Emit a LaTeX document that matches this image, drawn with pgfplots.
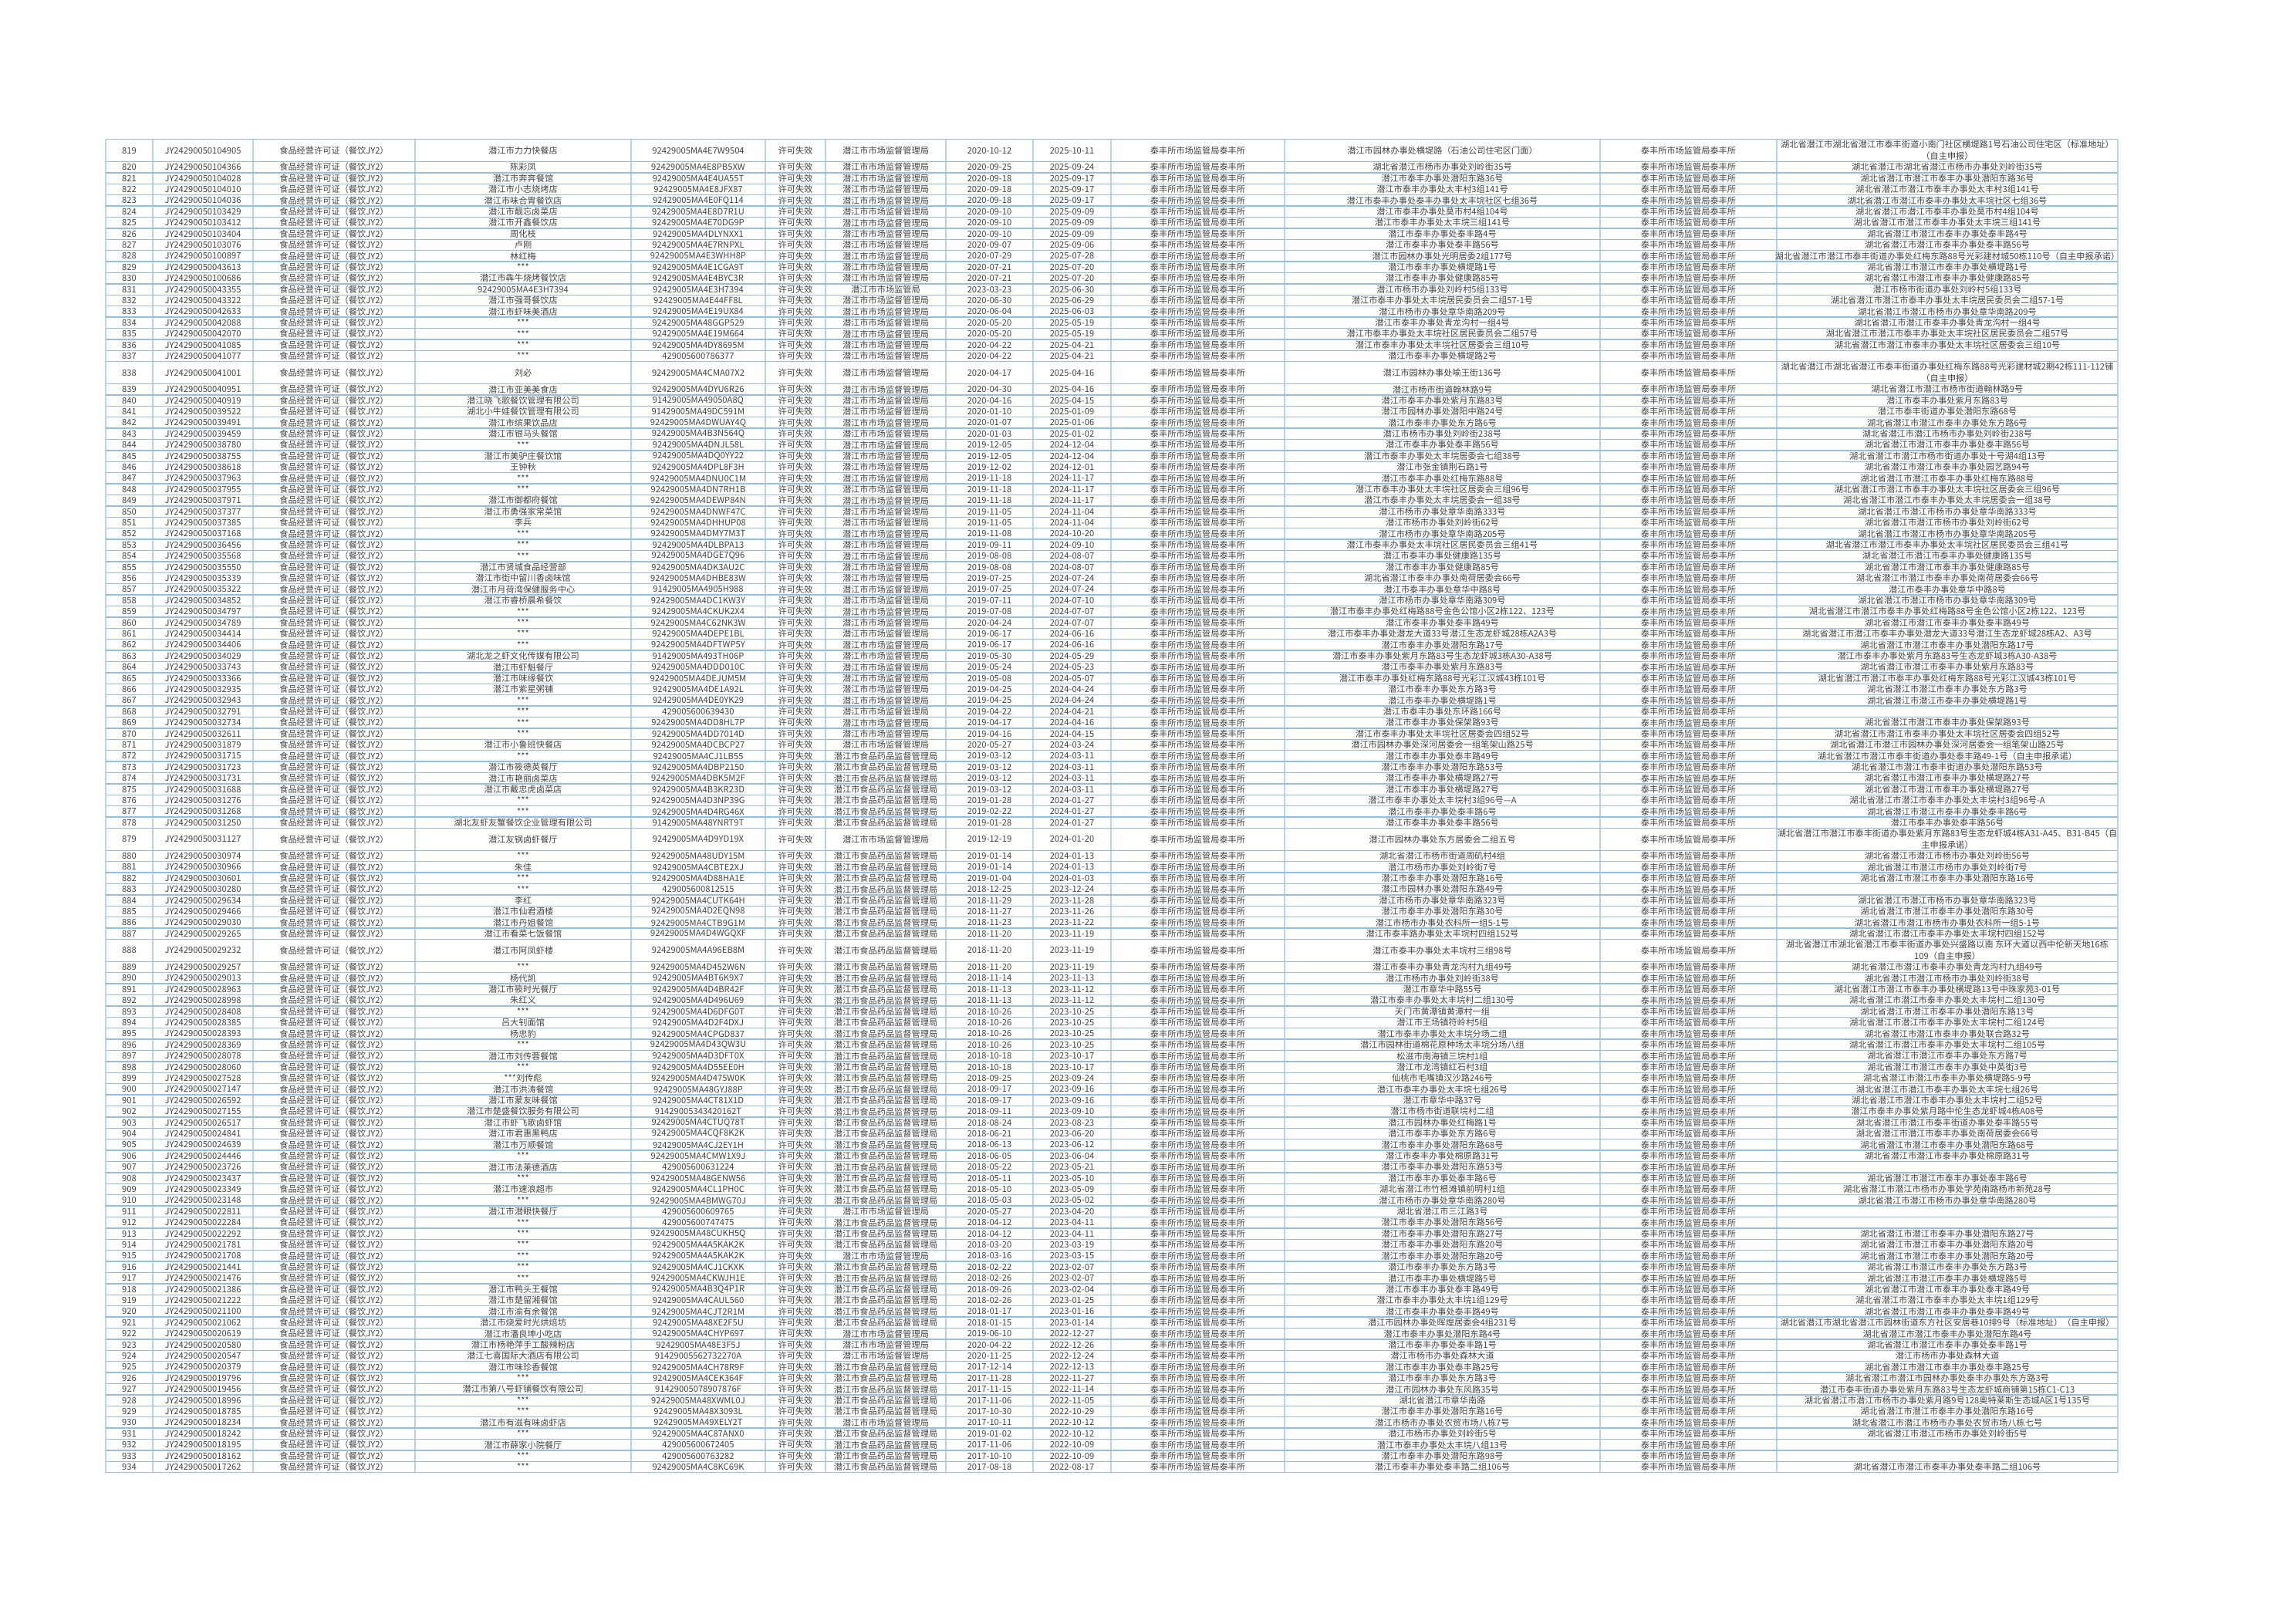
\documentclass[border=0pt]{standalone}
\usepackage{fontspec}
\setmainfont{Noto Sans CJK SC}
\usepackage{pgfplots}
\usepackage{pgfplotstable}
\pgfplotsset{compat=1.18}
\definecolor{txtc}{RGB}{66,66,66}
\definecolor{hgrid}{RGB}{150,190,228}
\definecolor{vgrid}{RGB}{186,212,238}
\newcommand\tabfont{\fontsize{5.6}{7}\selectfont}

\pgfplotstableread[col sep=comma]{
y,c1,c2,c4,c5,c7,c8,c9,c11,c13
1,819,JY24290050104905,潜江市力力快餐店,92429005MA4E7W9504,潜江市市场监督管理局,2020-10-12,2025-10-11,潜江市园林办事处横堤路（石油公司住宅区门面）,{}
2.5,820,JY24290050104366,陈彩凤,92429005MA4E8PB5XW,潜江市市场监督管理局,2020-09-25,2025-09-24,湖北省潜江市杨市办事处刘岭街35号,湖北省潜江市湖北省潜江市杨市办事处刘岭街35号
3.5,821,JY24290050104028,潜江市奔奔餐馆,92429005MA4E4UA55T,潜江市市场监督管理局,2020-09-18,2025-09-17,潜江市泰丰办事处潜阳东路36号,湖北省潜江市潜江市泰丰办事处潜阳东路36号
4.5,822,JY24290050104010,潜江市小志烧烤店,92429005MA4E8JFX87,潜江市市场监督管理局,2020-09-18,2025-09-17,潜江市泰丰办事处太丰村3组141号,湖北省潜江市潜江市泰丰办事处太丰村3组141号
5.5,823,JY24290050104036,潜江市味合胃餐饮店,92429005MA4E0FQ114,潜江市市场监督管理局,2020-09-18,2025-09-17,潜江市泰丰办事处泰丰办事处太丰垸社区七组36号,湖北省潜江市潜江市泰丰办事处太丰垸社区七组36号
6.5,824,JY24290050103429,潜江市靓忘卤菜店,92429005MA4E8D7R1U,潜江市市场监督管理局,2020-09-10,2025-09-09,潜江市泰丰办事处莫市村4组104号,湖北省潜江市潜江市泰丰办事处莫市村4组104号
7.5,825,JY24290050103412,潜江市开鑫餐饮店,92429005MA4E70DG9P,潜江市市场监督管理局,2020-09-10,2025-09-09,潜江市泰丰办事处太丰垸三组141号,湖北省潜江市潜江市泰丰办事处太丰垸三组141号
8.5,826,JY24290050103404,周化枝,92429005MA4DLYNXX1,潜江市市场监督管理局,2020-09-10,2025-09-09,潜江市泰丰办事处泰丰路4号,湖北省潜江市潜江市泰丰办事处泰丰路4号
9.5,827,JY24290050103076,卢刚,92429005MA4E7RNPXL,潜江市市场监督管理局,2020-09-07,2025-09-06,潜江市泰丰办事处泰丰路56号,湖北省潜江市潜江市泰丰办事处泰丰路56号
10.5,828,JY24290050100897,林红梅,92429005MA4E3WHH8P,潜江市市场监督管理局,2020-07-29,2025-07-28,潜江市园林办事处光明居委2组177号,湖北省潜江市潜江市泰丰街道办事处红梅东路88号光彩建材城50栋110号（自主申报承诺）
11.5,829,JY24290050043613,***,92429005MA4E1CGA9T,潜江市市场监督管理局,2020-07-21,2025-07-20,潜江市泰丰办事处横堤路1号,湖北省潜江市潜江市泰丰办事处横堤路1号
12.5,830,JY24290050100686,潜江市犇牛烧烤餐饮店,92429005MA4E4BYC3R,潜江市市场监督管理局,2020-07-21,2025-07-20,潜江市泰丰办事处健康路85号,湖北省潜江市潜江市泰丰办事处健康路85号
13.5,831,JY24290050043355,92429005MA4E3H7394,92429005MA4E3H7394,潜江市市场监管局,2023-03-23,2025-06-30,潜江市杨市办事处刘岭村5组133号,潜江市杨市街道办事处刘岭村5组133号
14.5,832,JY24290050043322,潜江市强哥餐饮店,92429005MA4E44FF8L,潜江市市场监督管理局,2020-06-30,2025-06-29,潜江市泰丰办事处太丰垸居民委员会二组57-1号,湖北省潜江市潜江市泰丰办事处太丰垸居民委员会二组57-1号
15.5,833,JY24290050042633,潜江市虾味美酒店,92429005MA4E19UX84,潜江市市场监督管理局,2020-06-04,2025-06-03,潜江市杨市办事处章华南路209号,湖北省潜江市潜江市杨市办事处章华南路209号
16.5,834,JY24290050042088,***,92429005MA48GGP529,潜江市市场监督管理局,2020-05-20,2025-05-19,潜江市泰丰办事处青龙沟村一组4号,湖北省潜江市潜江市泰丰办事处青龙沟村一组4号
17.5,835,JY24290050042070,***,92429005MA4E19M664,潜江市市场监督管理局,2020-05-20,2025-05-19,潜江市泰丰办事处太丰垸社区居民委员会二组57号,湖北省潜江市潜江市泰丰办事处太丰垸社区居民委员会二组57号
18.5,836,JY24290050041085,***,92429005MA4DY8695M,潜江市市场监督管理局,2020-04-22,2025-04-21,潜江市泰丰办事处太丰垸社区居委会三组10号,湖北省潜江市潜江市泰丰办事处太丰垸社区居委会三组10号
19.5,837,JY24290050041077,***,429005600786377,潜江市市场监督管理局,2020-04-22,2025-04-21,潜江市泰丰办事处横堤路2号,{}
21,838,JY24290050041001,刘必,92429005MA4CMA07X2,潜江市市场监督管理局,2020-04-17,2025-04-16,潜江市园林办事处喻王街136号,{}
22.5,839,JY24290050040951,潜江市亚美美食店,92429005MA4DYU6R26,潜江市市场监督管理局,2020-04-30,2025-04-16,潜江市杨市街道翰林路9号,湖北省潜江市潜江市杨市街道翰林路9号
23.5,840,JY24290050040919,潜江晓飞歌餐饮管理有限公司,91429005MA49050A8Q,潜江市市场监督管理局,2020-04-16,2025-04-15,潜江市泰丰办事处紫月东路83号,潜江市泰丰办事处紫月东路83号
24.5,841,JY24290050039522,湖北小牛娃餐饮管理有限公司,91429005MA49DC591M,潜江市市场监督管理局,2020-01-10,2025-01-09,潜江市园林办事处潜阳中路24号,潜江市泰丰街道办事处潜阳东路68号
25.5,842,JY24290050039491,潜江市缤果饮品店,92429005MA4DWUAY4Q,潜江市市场监督管理局,2020-01-07,2025-01-06,潜江市泰丰办事处东方路6号,湖北省潜江市潜江市泰丰办事处东方路6号
26.5,843,JY24290050039459,潜江市银马头餐馆,92429005MA4B3N564Q,潜江市市场监督管理局,2020-01-03,2025-01-02,潜江市杨市办事处刘岭街238号,湖北省潜江市潜江市杨市办事处刘岭街238号
27.5,844,JY24290050038780,***,92429005MA4DNJL58L,潜江市市场监督管理局,2019-12-05,2024-12-04,潜江市泰丰办事处泰丰路56号,湖北省潜江市潜江市泰丰办事处泰丰路56号
28.5,845,JY24290050038755,潜江市美驴庄餐饮馆,92429005MA4DQ0YY22,潜江市市场监督管理局,2019-12-05,2024-12-04,潜江市泰丰办事处太丰垸居委会七组38号,湖北省潜江市潜江市杨市街道办事处十号湖4组13号
29.5,846,JY24290050038618,王钟秋,92429005MA4DPL8F3H,潜江市市场监督管理局,2019-12-02,2024-12-01,潜江市张金镇荆石路1号,湖北省潜江市潜江市泰丰办事处园艺路94号
30.5,847,JY24290050037963,***,92429005MA4DNU0C1M,潜江市市场监督管理局,2019-11-18,2024-11-17,潜江市泰丰办事处红梅东路88号,湖北省潜江市潜江市泰丰办事处红梅东路88号
31.5,848,JY24290050037955,***,92429005MA4DN7RH1B,潜江市市场监督管理局,2019-11-18,2024-11-17,潜江市泰丰办事处太丰垸社区居委会三组96号,湖北省潜江市潜江市泰丰办事处太丰垸社区居委会三组96号
32.5,849,JY24290050037971,潜江市御都府餐馆,92429005MA4DEWP84N,潜江市市场监督管理局,2019-11-18,2024-11-17,潜江市泰丰办事处太丰垸居委会一组38号,湖北省潜江市潜江市泰丰办事处太丰垸居委会一组38号
33.5,850,JY24290050037377,潜江市勇强家常菜馆,92429005MA4DNWF47C,潜江市市场监督管理局,2019-11-05,2024-11-04,潜江市杨市办事处章华南路333号,湖北省潜江市潜江市杨市办事处章华南路333号
34.5,851,JY24290050037385,李兵,92429005MA4DHHUP08,潜江市市场监督管理局,2019-11-05,2024-11-04,潜江市杨市办事处刘岭街62号,湖北省潜江市潜江市杨市办事处刘岭街62号
35.5,852,JY24290050037168,***,92429005MA4DMY7M3T,潜江市市场监督管理局,2019-11-08,2024-10-20,潜江市杨市办事处章华南路205号,湖北省潜江市潜江市杨市办事处章华南路205号
36.5,853,JY24290050036456,***,92429005MA4DLBPA13,潜江市市场监督管理局,2019-09-11,2024-09-10,潜江市泰丰办事处太丰垸社区居民委员会三组41号,湖北省潜江市潜江市泰丰办事处太丰垸社区居民委员会三组41号
37.5,854,JY24290050035568,***,92429005MA4DGE7Q96,潜江市市场监督管理局,2019-08-08,2024-08-07,潜江市泰丰办事处健康路135号,湖北省潜江市潜江市泰丰办事处健康路135号
38.5,855,JY24290050035550,潜江市贤城食品经营部,92429005MA4DK3AU2C,潜江市市场监督管理局,2019-08-08,2024-08-07,潜江市泰丰办事处健康路85号,湖北省潜江市潜江市泰丰办事处健康路85号
39.5,856,JY24290050035339,潜江市街中留川香卤味馆,92429005MA4DHBE83W,潜江市市场监督管理局,2019-07-25,2024-07-24,湖北省潜江市泰丰办事处南荷居委会66号,湖北省潜江市潜江市泰丰办事处南荷居委会66号
40.5,857,JY24290050035322,潜江市月荷湾保健服务中心,91429005MA4905H988,潜江市市场监督管理局,2019-07-25,2024-07-24,潜江市泰丰办事处章华中路8号,潜江市泰丰办事处章华中路8号
41.5,858,JY24290050034852,潜江市睿桥晨希餐饮,92429005MA4DC1KW3Y,潜江市市场监督管理局,2019-07-11,2024-07-10,潜江市杨市办事处章华南路309号,湖北省潜江市潜江市杨市办事处章华南路309号
42.5,859,JY24290050034797,***,92429005MA4CKUK2X4,潜江市市场监督管理局,2019-07-08,2024-07-07,潜江市泰丰办事处红梅路88号金色公馆小区2栋122、123号,湖北省潜江市潜江市泰丰办事处红梅路88号金色公馆小区2栋122、123号
43.5,860,JY24290050034789,***,92429005MA4C62NK3W,潜江市市场监督管理局,2020-04-24,2024-07-07,潜江市泰丰办事处泰丰路49号,湖北省潜江市潜江市泰丰办事处泰丰路49号
44.5,861,JY24290050034414,***,92429005MA4DEPE1BL,潜江市市场监督管理局,2019-06-17,2024-06-16,潜江市泰丰办事处潜龙大道33号潜江生态龙虾城28栋A2A3号,湖北省潜江市潜江市泰丰办事处潜龙大道33号潜江生态龙虾城28栋A2、A3号
45.5,862,JY24290050034406,***,92429005MA4DFTWP5Y,潜江市市场监督管理局,2019-06-17,2024-06-16,潜江市泰丰办事处潜阳东路17号,湖北省潜江市潜江市泰丰办事处潜阳东路17号
46.5,863,JY24290050034029,湖北龙之虾文化传媒有限公司,91429005MA493TH06P,潜江市市场监督管理局,2019-05-30,2024-05-29,潜江市泰丰办事处紫月东路83号生态龙虾城3栋A30-A38号,潜江市泰丰办事处紫月东路83号生态龙虾城3栋A30-A38号
47.5,864,JY24290050033743,潜江市虾魁餐厅,92429005MA4DDD010C,潜江市市场监督管理局,2019-05-24,2024-05-23,潜江市泰丰办事处紫月东路83号,湖北省潜江市潜江市泰丰办事处紫月东路83号
48.5,865,JY24290050033366,潜江市味缘餐饮,92429005MA4DEJUM5M,潜江市市场监督管理局,2019-05-08,2024-05-07,潜江市泰丰办事处红梅东路88号光彩江汉城43栋101号,湖北省潜江市潜江市泰丰办事处红梅东路88号光彩江汉城43栋101号
49.5,866,JY24290050032935,潜江市紫星粥铺,92429005MA4DE1A92L,潜江市市场监督管理局,2019-04-25,2024-04-24,潜江市泰丰办事处东方路3号,湖北省潜江市潜江市泰丰办事处东方路3号
50.5,867,JY24290050032943,***,92429005MA4DE0YK29,潜江市市场监督管理局,2019-04-25,2024-04-24,潜江市泰丰办事处横堤路1号,湖北省潜江市潜江市泰丰办事处横堤路1号
51.5,868,JY24290050032791,***,429005600639430,潜江市市场监督管理局,2019-04-22,2024-04-21,潜江市泰丰办事处东环路166号,{}
52.5,869,JY24290050032734,***,92429005MA4DD8HL7P,潜江市市场监督管理局,2019-04-17,2024-04-16,潜江市泰丰办事处保架路93号,湖北省潜江市潜江市泰丰办事处保架路93号
53.5,870,JY24290050032611,***,92429005MA4DD7014D,潜江市市场监督管理局,2019-04-16,2024-04-15,潜江市泰丰办事处太丰垸社区居委会四组52号,湖北省潜江市潜江市泰丰办事处太丰垸社区居委会四组52号
54.5,871,JY24290050031879,潜江市小鲁班快餐店,92429005MA4DCBCP27,潜江市市场监督管理局,2020-05-27,2024-03-24,潜江市园林办事处深河居委会一组笔架山路25号,湖北省潜江市潜江市园林办事处深河居委会一组笔架山路25号
55.5,872,JY24290050031715,***,92429005MA4CJ1LB55,潜江市食品药品监督管理局,2019-03-12,2024-03-11,潜江市泰丰办事处泰丰路49号,湖北省潜江市潜江市泰丰街道办事处泰丰路49-1号（自主申报承诺）
56.5,873,JY24290050031723,潜江市筱德英餐厅,92429005MA4DBP2150,潜江市食品药品监督管理局,2019-03-12,2024-03-11,潜江市泰丰办事处潜阳东路53号,湖北省潜江市潜江市泰丰街道办事处潜阳东路53号
57.5,874,JY24290050031731,潜江市艳丽卤菜店,92429005MA4DBK5M2F,潜江市食品药品监督管理局,2019-03-12,2024-03-11,潜江市泰丰办事处横堤路27号,湖北省潜江市潜江市泰丰办事处横堤路27号
58.5,875,JY24290050031688,潜江市戴忠虎卤菜店,92429005MA4B3KR23D,潜江市食品药品监督管理局,2019-03-12,2024-03-11,潜江市泰丰办事处横堤路27号,湖北省潜江市潜江市泰丰办事处横堤路27号
59.5,876,JY24290050031276,***,92429005MA4D3NP39G,潜江市食品药品监督管理局,2019-01-28,2024-01-27,潜江市泰丰办事处太丰垸村3组96号—A,湖北省潜江市潜江市泰丰办事处太丰垸村3组96号-A
60.5,877,JY24290050031268,***,92429005MA4D4RG46X,潜江市食品药品监督管理局,2019-02-22,2024-01-27,潜江市泰丰办事处泰丰路6号,湖北省潜江市潜江市泰丰办事处泰丰路6号
61.5,878,JY24290050031250,湖北友虾友蟹餐饮企业管理有限公司,91429005MA48YNRT9T,潜江市食品药品监督管理局,2019-01-28,2024-01-27,潜江市泰丰办事处泰丰路56号,潜江市泰丰办事处泰丰路56号
63,879,JY24290050031127,潜江友锅卤虾餐厅,92429005MA4D9YD19X,潜江市市场监督管理局,2019-12-19,2024-01-20,潜江市园林办事处东方居委会二组五号,{}
64.5,880,JY24290050030974,***,92429005MA48UDY15M,潜江市食品药品监督管理局,2019-01-14,2024-01-13,湖北省潜江市杨市街道周矶村4组,湖北省潜江市潜江市杨市办事处刘岭街56号
65.5,881,JY24290050030966,朱佳,92429005MA4CBTE2XJ,潜江市食品药品监督管理局,2019-01-14,2024-01-13,潜江市杨市办事处刘岭街7号,湖北省潜江市潜江市杨市办事处刘岭街7号
66.5,882,JY24290050030601,***,92429005MA4D88HA1E,潜江市食品药品监督管理局,2019-01-04,2024-01-03,潜江市泰丰办事处潜阳东路16号,湖北省潜江市潜江市泰丰办事处潜阳东路16号
67.5,883,JY24290050030280,***,429005600812515,潜江市食品药品监督管理局,2018-12-25,2023-12-24,潜江市园林办事处潜阳东路49号,{}
68.5,884,JY24290050029634,李红,92429005MA4CUTK64H,潜江市食品药品监督管理局,2018-11-29,2023-11-28,潜江市杨市办事处章华南路323号,湖北省潜江市潜江市杨市办事处章华南路323号
69.5,885,JY24290050029466,潜江市仙君酒楼,92429005MA4D2EQN98,潜江市食品药品监督管理局,2018-11-27,2023-11-26,潜江市泰丰办事处潜阳东路30号,湖北省潜江市潜江市泰丰办事处潜阳东路30号
70.5,886,JY24290050029030,潜江市丹姐餐馆,92429005MA4CTB9G1M,潜江市食品药品监督管理局,2018-11-23,2023-11-22,潜江市杨市办事处农科所一组5-1号,湖北省潜江市潜江市杨市办事处农科所一组5-1号
71.5,887,JY24290050029265,潜江市看菜七饭餐馆,92429005MA4D4WGQXF,潜江市食品药品监督管理局,2018-11-20,2023-11-19,潜江市泰丰路办事处太丰垸村四组152号,湖北省潜江市潜江市泰丰办事处太丰垸村四组152号
73,888,JY24290050029232,潜江市阿凤虾楼,92429005MA4A96EB8M,潜江市食品药品监督管理局,2018-11-20,2023-11-19,潜江市泰丰办事处太丰垸村三组98号,{}
74.5,889,JY24290050029257,***,92429005MA4D452W6N,潜江市食品药品监督管理局,2018-11-20,2023-11-19,潜江市泰丰办事处青龙沟村九组49号,湖北省潜江市潜江市泰丰办事处青龙沟村九组49号
75.5,890,JY24290050029013,杨代凯,92429005MA4BT6K9X7,潜江市食品药品监督管理局,2018-11-14,2023-11-13,潜江市杨市办事处刘岭街38号,湖北省潜江市潜江市杨市办事处刘岭街38号
76.5,891,JY24290050028963,潜江市筱时光餐厅,92429005MA4D4BR42F,潜江市食品药品监督管理局,2018-11-13,2023-11-12,潜江市章华中路55号,湖北省潜江市潜江市泰丰办事处横堤路13号中珠家苑3-01号
77.5,892,JY24290050028998,朱红义,92429005MA4D496U69,潜江市食品药品监督管理局,2018-11-13,2023-11-12,潜江市泰丰办事处太丰垸村二组130号,湖北省潜江市潜江市泰丰办事处太丰垸村二组130号
78.5,893,JY24290050028408,***,92429005MA4D6DFG0T,潜江市食品药品监督管理局,2018-10-26,2023-10-25,天门市黄潭镇黄潭村一组,湖北省潜江市潜江市泰丰办事处潜阳东路13号
79.5,894,JY24290050028385,吕大钊面馆,92429005MA4D2F4DXJ,潜江市食品药品监督管理局,2018-10-26,2023-10-25,潜江市王场镇符岭村5组,湖北省潜江市潜江市泰丰办事处太丰垸村二组124号
80.5,895,JY24290050028393,杨忠豹,92429005MA4CPGD837,潜江市食品药品监督管理局,2018-10-26,2023-10-25,潜江市泰丰办事处太丰垸分场二组,湖北省潜江市潜江市泰丰办事处联合路32号
81.5,896,JY24290050028369,***,92429005MA4D43QW3U,潜江市食品药品监督管理局,2018-10-26,2023-10-25,潜江市园林街道棉花原种场太丰垸分场八组,湖北省潜江市潜江市泰丰办事处太丰垸村二组105号
82.5,897,JY24290050028078,潜江市刘传蓉餐馆,92429005MA4D3DFT0X,潜江市食品药品监督管理局,2018-10-18,2023-10-17,松滋市南海镇三垸村1组,湖北省潜江市潜江市泰丰办事处东方路7号
83.5,898,JY24290050028060,***,92429005MA4D55EE0H,潜江市食品药品监督管理局,2018-10-18,2023-10-17,潜江市龙湾镇红石村3组,湖北省潜江市潜江市泰丰办事处中英街3号
84.5,899,JY24290050027528,***刘传彪,92429005MA4D475W0K,潜江市食品药品监督管理局,2018-09-25,2023-09-24,仙桃市毛嘴镇汉沙路246号,湖北省潜江市潜江市泰丰办事处横堤路5-9号
85.5,900,JY24290050027147,潜江市洪涛餐馆,92429005MA48GYJ88P,潜江市食品药品监督管理局,2018-09-17,2023-09-16,潜江市泰丰办事处太丰垸七组26号,湖北省潜江市潜江市泰丰办事处太丰垸七组26号
86.5,901,JY24290050026592,潜江市蒙友味餐馆,92429005MA4CT81X1D,潜江市食品药品监督管理局,2018-09-17,2023-09-16,潜江市章华中路37号,湖北省潜江市潜江市泰丰办事处太丰垸村二组52号
87.5,902,JY24290050027155,潜江市楚盛餐饮服务有限公司,91429005343420162T,潜江市食品药品监督管理局,2018-09-11,2023-09-10,潜江市杨市街道联垸村二组,潜江市泰丰办事处紫月路中伦生态龙虾城4栋A08号
88.5,903,JY24290050026517,潜江市虾飞歌卤虾馆,92429005MA4CTUQ78T,潜江市食品药品监督管理局,2018-08-24,2023-08-23,潜江市园林办事处红梅路1号,湖北省潜江市潜江市泰丰街道办事处泰丰路55号
89.5,904,JY24290050024841,潜江市君惠黑鸭店,92429005MA4CQF8K2K,潜江市食品药品监督管理局,2018-06-21,2023-06-20,潜江市泰丰办事处东方路6号,湖北省潜江市潜江市泰丰办事处南荷居委会66号
90.5,905,JY24290050024639,潜江市万顺餐馆,92429005MA4CJ2EY1H,潜江市食品药品监督管理局,2018-06-13,2023-06-12,潜江市泰丰办事处潜阳东路68号,湖北省潜江市潜江市泰丰办事处潜阳东路68号
91.5,906,JY24290050024446,***,92429005MA4CMW1X9J,潜江市食品药品监督管理局,2018-06-05,2023-06-04,潜江市泰丰办事处棉原路31号,湖北省潜江市潜江市泰丰办事处棉原路31号
92.5,907,JY24290050023726,潜江市法莱德酒店,429005600631224,潜江市食品药品监督管理局,2018-05-22,2023-05-21,潜江市泰丰办事处潜阳东路53号,{}
93.5,908,JY24290050023437,***,92429005MA48GENW56,潜江市食品药品监督管理局,2018-05-11,2023-05-10,潜江市泰丰办事处泰丰路6号,湖北省潜江市潜江市泰丰办事处泰丰路6号
94.5,909,JY24290050023349,潜江市速浪超市,92429005MA4CL1PH0C,潜江市食品药品监督管理局,2018-05-10,2023-05-09,湖北省潜江市竹根滩镇前明村1组,湖北省潜江市潜江市杨市办事处学苑南路杨市新苑28号
95.5,910,JY24290050023148,***,92429005MA4BMWG70J,潜江市食品药品监督管理局,2018-05-03,2023-05-02,潜江市杨市办事处章华南路280号,湖北省潜江市潜江市杨市办事处章华南路280号
96.5,911,JY24290050022811,潜江市潜眼快餐厅,429005600609765,潜江市市场监督管理局,2020-05-27,2023-04-20,湖北省潜江市三江路3号,{}
97.5,912,JY24290050022284,***,429005600747475,潜江市食品药品监督管理局,2018-04-12,2023-04-11,潜江市泰丰办事处潜阳东路56号,{}
98.5,913,JY24290050022292,***,92429005MA48CUKH5Q,潜江市食品药品监督管理局,2018-04-12,2023-04-11,潜江市泰丰办事处潜阳东路27号,湖北省潜江市潜江市泰丰办事处潜阳东路27号
99.5,914,JY24290050021781,***,92429005MA4A5KAK2K,潜江市食品药品监督管理局,2018-03-20,2023-03-19,潜江市泰丰办事处潜阳东路20号,湖北省潜江市潜江市泰丰办事处潜阳东路20号
100.5,915,JY24290050021708,***,92429005MA4A5KAK2K,潜江市市场监督管理局,2018-03-16,2023-03-15,潜江市泰丰办事处潜阳东路20号,湖北省潜江市潜江市泰丰办事处潜阳东路20号
101.5,916,JY24290050021441,***,92429005MA4CJ1CKXK,潜江市食品药品监督管理局,2018-02-22,2023-02-07,潜江市泰丰办事处东方路3号,湖北省潜江市潜江市泰丰办事处东方路3号
102.5,917,JY24290050021476,***,92429005MA4CKWJH1E,潜江市食品药品监督管理局,2018-02-26,2023-02-07,潜江市泰丰办事处横堤路5号,湖北省潜江市潜江市泰丰办事处横堤路5号
103.5,918,JY24290050021386,潜江市鸭头王餐馆,92429005MA4B3Q4P1R,潜江市食品药品监督管理局,2018-09-26,2023-02-04,潜江市泰丰办事处泰丰路49号,湖北省潜江市潜江市泰丰办事处泰丰路49号
104.5,919,JY24290050021222,潜江市楚留湘餐馆,92429005MA4CAUL560,潜江市食品药品监督管理局,2018-02-26,2023-01-25,潜江市泰丰办事处太丰垸1组129号,湖北省潜江市潜江市泰丰办事处太丰垸1组129号
105.5,920,JY24290050021100,潜江市渝有余餐馆,92429005MA4CJT2R1M,潜江市食品药品监督管理局,2018-01-17,2023-01-16,潜江市泰丰办事处泰丰路49号,湖北省潜江市潜江市泰丰办事处泰丰路49号
106.5,921,JY24290050021062,潜江市烧爱时光烘焙坊,92429005MA48XE2F5U,潜江市食品药品监督管理局,2018-01-15,2023-01-14,潜江市园林办事处晖煌居委会4组231号,湖北省潜江市湖北省潜江市园林街道东方社区安居巷10排9号（标准地址）（自主申报）
107.5,922,JY24290050020619,潜江市潘良坤小吃店,92429005MA4CHYP697,潜江市市场监督管理局,2019-06-10,2022-12-27,潜江市泰丰办事处潜阳东路4号,湖北省潜江市潜江市泰丰办事处潜阳东路4号
108.5,923,JY24290050020580,潜江市杨艳萍手工酸辣粉店,92429005MA48E3F5J,潜江市市场监督管理局,2020-04-22,2022-12-26,潜江市泰丰办事处泰丰路1号,湖北省潜江市潜江市泰丰办事处泰丰路1号
109.5,924,JY24290050020547,潜江七喜国际大酒店有限公司,91429005562732270A,潜江市市场监督管理局,2020-11-25,2022-12-24,潜江市杨市办事处森林大道,潜江市杨市办事处森林大道
110.5,925,JY24290050020379,潜江市味珍香餐馆,92429005MA4CH78R9F,潜江市食品药品监督管理局,2017-12-14,2022-12-13,潜江市泰丰办事处泰丰路25号,湖北省潜江市潜江市泰丰办事处泰丰路25号
111.5,926,JY24290050019796,***,92429005MA4CEK364F,潜江市食品药品监督管理局,2017-11-28,2022-11-27,潜江市泰丰办事处东方路3号,湖北省潜江市潜江市园林办事处泰丰办事处东方路3号
112.5,927,JY24290050019456,潜江市第八号虾铺餐饮有限公司,91429005078907876F,潜江市食品药品监督管理局,2017-11-15,2022-11-14,潜江市园林办事处东风路35号,潜江市泰丰街道办事处紫月东路83号生态龙虾城商铺第15栋C1-C13
113.5,928,JY24290050018996,***,92429005MA48XWML0J,潜江市食品药品监督管理局,2017-11-06,2022-11-05,湖北省潜江市章华南路,湖北省潜江市潜江市杨市办事处紫月路9号128奥特莱斯生态城A区1号135号
114.5,929,JY24290050018785,***,92429005MA48X3093L,潜江市食品药品监督管理局,2017-10-30,2022-10-29,潜江市泰丰办事处潜阳东路16号,湖北省潜江市潜江市泰丰办事处潜阳东路16号
115.5,930,JY24290050018234,潜江市有滋有味卤虾店,92429005MA49XELY2T,潜江市市场监督管理局,2017-10-11,2022-10-12,潜江市杨市办事处农贸市场八栋7号,湖北省潜江市潜江市杨市办事处农贸市场八栋七号
116.5,931,JY24290050018242,***,92429005MA4C87ANX0,潜江市食品药品监督管理局,2019-01-02,2022-10-12,潜江市杨市办事处刘岭街5号,湖北省潜江市潜江市杨市办事处刘岭街5号
117.5,932,JY24290050018195,潜江市薛家小院餐厅,429005600672405,潜江市食品药品监督管理局,2017-11-06,2022-10-09,潜江市泰丰办事处太丰垸八组13号,{}
118.5,933,JY24290050018162,***,429005600763282,潜江市食品药品监督管理局,2017-10-10,2022-10-09,潜江市泰丰办事处潜阳东路98号,{}
119.5,934,JY24290050017262,***,92429005MA4C8KC69K,潜江市食品药品监督管理局,2017-08-18,2022-08-17,潜江市泰丰办事处泰丰路二组106号,湖北省潜江市潜江市泰丰办事处泰丰路二组106号
}\tab

\pgfplotstableread[col sep=comma]{
y,t
0.48,湖北省潜江市湖北省潜江市泰丰街道小南门社区横堤路1号石油公司住宅区（标准地址）
1.52,（自主申报）
20.48,湖北省潜江市湖北省潜江市泰丰街道办事处红梅东路88号光彩建材城2期42栋111-112铺
21.52,（自主申报）
62.48,湖北省潜江市潜江市泰丰街道办事处紫月东路83号生态龙虾城4栋A31-A45、B31-B45（自
63.52,主申报承诺）
72.48,湖北省潜江市湖北省潜江市泰丰街道办事处兴盛路以南 东环大道以西中伦新天地16栋
73.52,109（自主申报）
}\tall

\begin{document}
\begin{tikzpicture}
\begin{axis}[
  name=ax,
  scale only axis,
  width=1304pt, height=864pt,
  xmin=137, xmax=2745, ymin=0, ymax=120,
  y dir=reverse,
  clip=false,
  axis line style={draw=none},
  major tick length=0pt,
  xticklabel style={opacity=0}, yticklabel style={opacity=0},
  xtick={137,198,328,538,818,992,1070,1226,1339,1440,1665,2074,2303,2745},
  ytick={0,2,3,4,5,6,7,8,9,10,11,12,13,14,15,16,17,18,19,20,22,23,24,25,26,27,28,29,30,31,32,33,34,35,36,37,38,39,40,41,42,43,44,45,46,47,48,49,50,51,52,53,54,55,56,57,58,59,60,61,62,64,65,66,67,68,69,70,71,72,74,75,76,77,78,79,80,81,82,83,84,85,86,87,88,89,90,91,92,93,94,95,96,97,98,99,100,101,102,103,104,105,106,107,108,109,110,111,112,113,114,115,116,117,118,119,120},
  xmajorgrids, ymajorgrids,
  x grid style={draw=vgrid, line width=0.6pt},
  y grid style={draw=hgrid, line width=0.75pt},
  txt/.style={draw=none, mark=none, forget plot, nodes near coords,
    point meta=explicit symbolic,
    every node near coord/.append style={anchor=center, font=\tabfont, text=txtc, inner sep=0pt}},
  cst/.style={draw=none, mark=none, forget plot, point meta=y,
    nodes near coords={#1},
    every node near coord/.append style={anchor=center, font=\tabfont, text=txtc, inner sep=0pt}},
]
\addplot[txt] table[x expr=167.5, y=y, meta=c1] {\tab};
\addplot[txt] table[x expr=263, y=y, meta=c2] {\tab};
\addplot[cst={食品经营许可证（餐饮JY2）}] table[x expr=433, y=y] {\tab};
\addplot[txt] table[x expr=678, y=y, meta=c4] {\tab};
\addplot[txt] table[x expr=905, y=y, meta=c5] {\tab};
\addplot[cst={许可失效}] table[x expr=1031, y=y] {\tab};
\addplot[txt] table[x expr=1148, y=y, meta=c7] {\tab};
\addplot[txt] table[x expr=1282.5, y=y, meta=c8] {\tab};
\addplot[txt] table[x expr=1389.5, y=y, meta=c9] {\tab};
\addplot[cst={泰丰所市场监管局泰丰所}] table[x expr=1552.5, y=y] {\tab};
\addplot[txt] table[x expr=1869.5, y=y, meta=c11] {\tab};
\addplot[cst={泰丰所市场监管局泰丰所}] table[x expr=2188.5, y=y] {\tab};
\addplot[txt] table[x expr=2524, y=y, meta=c13] {\tab};
\addplot[txt] table[x expr=2524, y=y, meta=t] {\tall};
\end{axis}
\pgfresetboundingbox
\path[use as bounding box] ([xshift=-68.5pt,yshift=-97.65pt]ax.south west) rectangle ([xshift=115.5pt,yshift=90.35pt]ax.north east);
\end{tikzpicture}
\end{document}
